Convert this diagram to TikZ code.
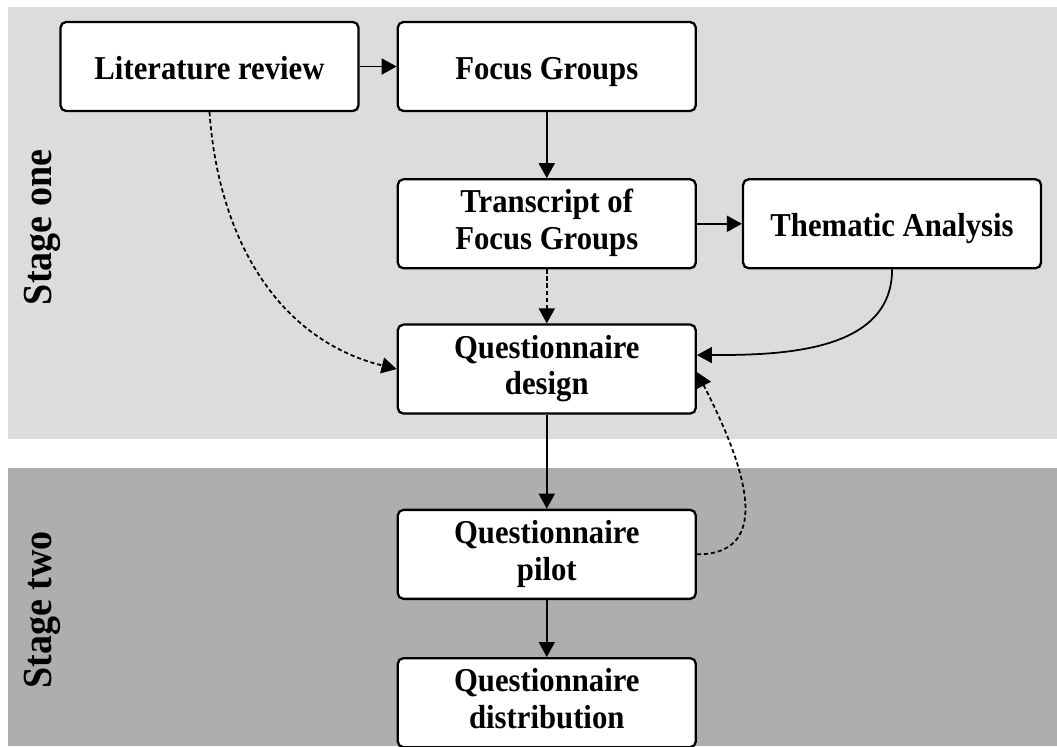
\documentclass[tikz,border=0pt]{standalone}
\usepackage{fontspec}
\setmainfont{Liberation Serif}[FakeStretch=0.92]
\usepackage{tikz}
\usetikzlibrary{arrows.meta,positioning}
\definecolor{stageone}{HTML}{DCDCDC}
\definecolor{stagetwo}{HTML}{AEAEAE}
\newcommand{\boxstrut}{\rule[-0.25em]{0pt}{1.25em}}
\tikzset{
  stepbox/.style={draw=black,line width=1.3pt,rounded corners=3.2pt,fill=white,align=center,
    minimum width=5.96cm,minimum height=1.78cm,inner sep=2pt,
    font=\fontsize{19}{21}\selectfont\bfseries,
    execute at begin node=\boxstrut,execute at end node=\boxstrut},
  flowarrow/.style={-{Triangle[length=3mm,width=3.2mm]},line width=1pt,draw=black},
  feedarrow/.style={flowarrow,dash pattern=on 2.4pt off 1.6pt},
  stagelabel/.style={rotate=90,font=\fontsize{23.5}{26}\selectfont\bfseries}
}
\begin{document}
\begin{tikzpicture}[node distance=0.74cm]
\useasboundingbox (0,0) rectangle (21.14,-14.92);
% stage backgrounds
\fill[stageone] (0.16,-0.14) rectangle (21.14,-8.78);
\fill[stagetwo] (0.16,-9.36) rectangle (21.14,-14.92);
\node[stagelabel] (one) at (0.84,-4.55) {Stage one};
\node[stagelabel] (two) at (0.84,-12.2) {Stage two};
% steps
\node[stepbox] (lit) at (4.19,-1.33) {Literature review};
\node[stepbox,right=of lit] (focus) {Focus Groups};
\node[stepbox,below=1.32cm of focus] (transcript) {Transcript of\\Focus Groups};
\node[stepbox,right=0.9cm of transcript] (thematic) {Thematic Analysis};
\node[stepbox,below=1.08cm of transcript] (design) {Questionnaire\\design};
\node[stepbox,below=1.88cm of design] (pilot) {Questionnaire\\pilot};
\node[stepbox,below=1.14cm of pilot] (distrib) {Questionnaire\\distribution};
% connectors
\draw[flowarrow] (lit) -- (focus);
\draw[flowarrow] (focus) -- (transcript);
\draw[flowarrow] (transcript) -- (thematic);
\draw[feedarrow] (transcript) -- (design);
\draw[feedarrow] (lit.south) to[out=-86,in=166] (design.west);
\draw[flowarrow] (thematic.south) to[out=-90,in=0] ([yshift=0.28cm]design.east);
\draw[flowarrow] (design) -- (pilot);
\draw[feedarrow] (pilot.east) to[out=0,in=-63,looseness=1.2] ([yshift=-0.06cm]design.east);
\draw[flowarrow] (pilot) -- (distrib);
\end{tikzpicture}
\end{document}
